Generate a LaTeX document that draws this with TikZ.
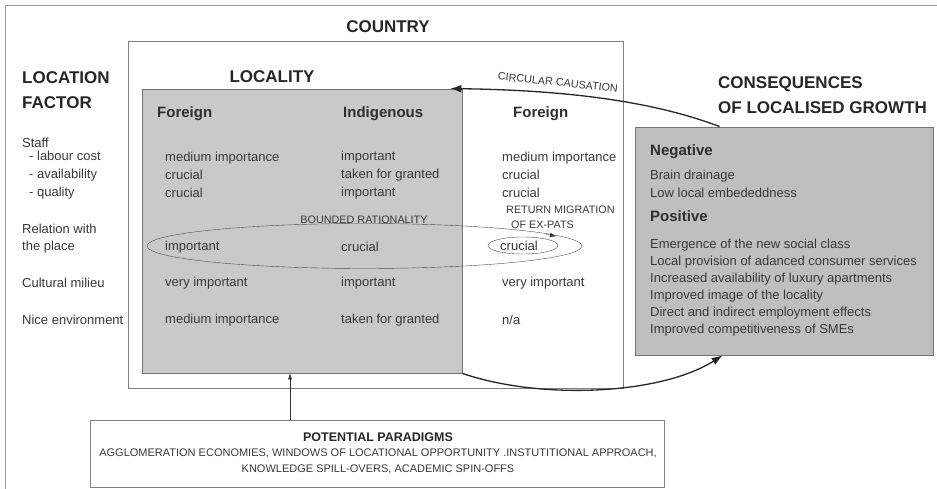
\documentclass[tikz,border=0pt]{standalone}
\usepackage{fontspec}
\setmainfont{Liberation Sans}
\usetikzlibrary{arrows.meta}

\begin{document}
\begin{tikzpicture}[x=1pt,y=-1pt,
  every node/.style={inner sep=0pt,text=black!78},
  frame/.style={draw=black!50,line width=.8pt},
  greybox/.style={draw=black!55,line width=.8pt,fill=black!21},
  head/.style={font=\fontsize{17}{25}\selectfont\bfseries,text=black!85},
  colhead/.style={font=\fontsize{15}{18}\selectfont\bfseries,anchor=west,text=black!82},
  body/.style={font=\fontsize{13}{18}\selectfont,anchor=west,align=left},
  caps/.style={font=\fontsize{10.8}{15}\selectfont},
  link/.style={line width=1.3pt,black!85,-{Latex[length=11pt,width=8pt]}}]
  \useasboundingbox (0,0) rectangle (937,489);
  \draw[black!40] (5,489) -- (5,5) -- (937,5);

  \node[frame,minimum width=495pt,minimum height=347pt] (country) at (375.5,214.5) {};
  \node[greybox,minimum width=320pt,minimum height=284pt] (locality) at (302,231) {};
  \node[greybox,fill=black!25,minimum width=298pt,minimum height=228pt] (cons) at (784,241) {};
  \node[frame,minimum width=574pt,minimum height=67pt] (paradigms) at (377,453.5) {};

  \draw[black!70] (364.5,246) ellipse [x radius=217.5, y radius=22.5];
  \draw[black!70] (523,245.5) ellipse [x radius=35, y radius=8.5];
  \draw[black!80,-{Latex[length=6pt,width=4.5pt]}] (546,234.3) -- (556,236.2);

  \node[head] (country-t) at (388,27) {COUNTRY};
  \node[head] (locality-t) at (272,77) {LOCALITY};
  \node[head,anchor=west,align=left] (factor-t) at (22,90.5) {LOCATION\\FACTOR};
  \node[head,anchor=west,align=left] (cons-t) at (718,95.5) {CONSEQUENCES\\OF LOCALISED GROWTH};

  \node[colhead] (foreign-a) at (157,114) {Foreign};
  \node[colhead] (indig) at (343,114) {Indigenous};
  \node[colhead] (foreign-b) at (513,114) {Foreign};

  \node[body] (staff) at (22,143) {Staff};
  \node[body] (staff-items) at (29,175) {- labour cost\\- availability\\- quality};
  \node[body,font=\fontsize{13}{17}\selectfont] (relation) at (22,238.5) {Relation with\\the place};
  \node[body] (milieu) at (22,283) {Cultural milieu};
  \node[body] (environ) at (22,320) {Nice environment};

  \node[body] (staff-a) at (165,175) {medium importance\\crucial\\crucial};
  \node[body] (staff-b) at (341,175) {important\\taken for granted\\important};
  \node[body] (staff-c) at (502,175) {medium importance\\crucial\\crucial};
  \node[body] (relation-a) at (165,247) {important};
  \node[body] (relation-b) at (341,247) {crucial};
  \node[body] (relation-c) at (500,246) {crucial};
  \node[body] (milieu-a) at (165,283) {very important};
  \node[body] (milieu-b) at (341,283) {important};
  \node[body] (milieu-c) at (502,283) {very important};
  \node[body] (environ-a) at (165,320) {medium importance};
  \node[body] (environ-b) at (341,320) {taken for granted};
  \node[body] (environ-c) at (502,320) {n/a};

  \node[caps] (bounded) at (364,220) {BOUNDED RATIONALITY};
  \node[caps,anchor=west,align=left] (return) at (506,217.5) {RETURN MIGRATION\\\hspace*{5pt}OF EX-PATS};
  \node[caps,rotate=-6] (circular) at (558,82.5) {CIRCULAR CAUSATION};

  \node[colhead] (neg) at (650,152) {Negative};
  \node[body] (neg-items) at (650,184) {Brain drainage\\Low local embededdness};
  \node[colhead] (pos) at (650,216) {Positive};
  \node[body,font=\fontsize{13}{17}\selectfont] (pos-items) at (650,287.5) {Emergence of the new social class\\Local provision of adanced consumer services\\Increased availability of luxury apartments\\Improved image of the locality\\Direct and indirect employment effects\\Improved competitiveness of SMEs};

  \node[font=\fontsize{12.5}{15}\selectfont\bfseries,text=black!85] (paradigm-t) at (378,437) {POTENTIAL PARADIGMS};
  \node[caps,align=center,font=\fontsize{11}{16}\selectfont] (paradigm-list) at (378,461) {AGGLOMERATION ECONOMIES, WINDOWS OF LOCATIONAL OPPORTUNITY .INSTUTITIONAL APPROACH,\\KNOWLEDGE SPILL-OVERS, ACADEMIC SPIN-OFFS};

  \draw[link] ([xshift=85pt]cons.north west) .. controls (650,100) and (560,90) .. ([xshift=-12pt]locality.north east);
  \draw[link] (locality.south east) .. controls (540,400) and (660,395) .. ([xshift=88pt]cons.south west);
  \draw[black!80,-{Latex[length=6pt,width=4pt]}] ([xshift=-87pt]paradigms.north) -- ([xshift=-12pt]locality.south);
\end{tikzpicture}
\end{document}
